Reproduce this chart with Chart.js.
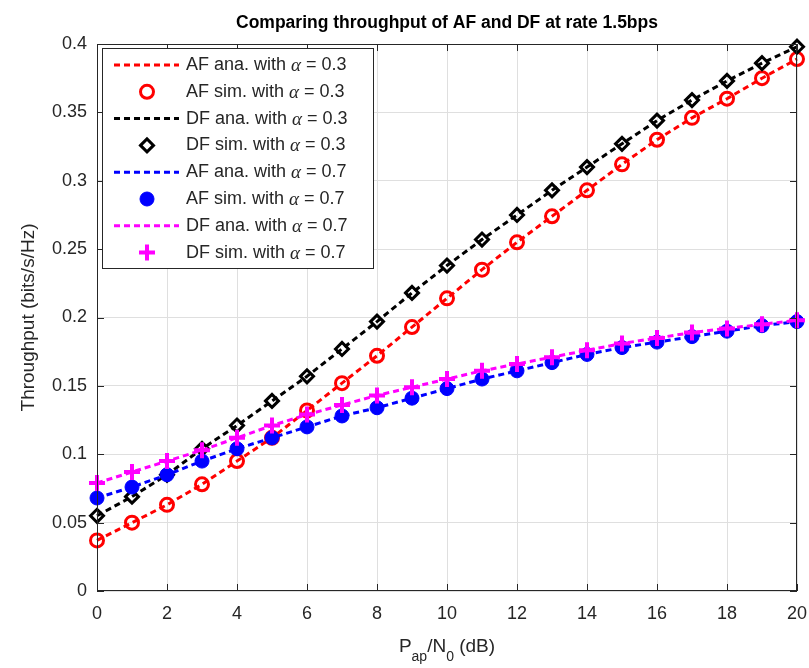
<!DOCTYPE html>
<html>
<head>
<meta charset="utf-8">
<title>Throughput of AF and DF</title>
<script src="https://cdn.jsdelivr.net/npm/chart.js@4.4.1/dist/chart.umd.min.js"></script>
<style>
  html, body { margin: 0; padding: 0; background: #fff; }
  #wrap { width: 809px; height: 668px; }
</style>
</head>
<body>
<div id="wrap"><canvas id="c" width="809" height="668"></canvas></div>
<script>
// P_ap/N_0 in dB
const snrDb = [0, 1, 2, 3, 4, 5, 6, 7, 8, 9, 10, 11, 12, 13, 14, 15, 16, 17, 18, 19, 20]

// throughput (bits/s/Hz), alpha = 0.3
const afLow = [0.037, 0.050, 0.063, 0.078, 0.095, 0.112, 0.132, 0.152, 0.172, 0.193, 0.214,
               0.235, 0.255, 0.274, 0.293, 0.312, 0.330, 0.346, 0.360, 0.375, 0.389]
const dfLow = [0.055, 0.069, 0.085, 0.104, 0.121, 0.139, 0.157, 0.177, 0.197, 0.218, 0.238,
               0.257, 0.275, 0.293, 0.310, 0.327, 0.344, 0.359, 0.373, 0.386, 0.398]

// throughput (bits/s/Hz), alpha = 0.7
const afHigh = [0.068, 0.076, 0.085, 0.095, 0.104, 0.112, 0.120, 0.128, 0.134, 0.141, 0.148,
                0.155, 0.161, 0.167, 0.173, 0.178, 0.182, 0.186, 0.190, 0.194, 0.197]
const dfHigh = [0.079, 0.087, 0.095, 0.103, 0.112, 0.121, 0.129, 0.136, 0.143, 0.149, 0.155,
                0.161, 0.166, 0.171, 0.176, 0.181, 0.185, 0.189, 0.192, 0.195, 0.198]

const xTickValues = [0, 2, 4, 6, 8, 10, 12, 14, 16, 18, 20]
const yTickValues = [0, 0.05, 0.1, 0.15, 0.2, 0.25, 0.3, 0.35, 0.4]

const FONT = "'Liberation Sans', Arial, sans-serif"
const TEXT = '#262626'

const pts = ys => ys.map((y, i) => ({ x: snrDb[i], y }))

// analytical curve: dashed line, no markers
const anaLine = (label, ys, color) => ({
    label, data: pts(ys), showLine: true, borderColor: color, borderWidth: 3,
    borderDash: [6, 4], pointRadius: 0, clip: false
})

// simulated points: markers only
const simPoints = (label, ys, color, style, radius, width, filled) => ({
    label, data: pts(ys), showLine: false, pointStyle: style, pointRadius: radius,
    pointBorderWidth: width, pointBorderColor: color,
    pointBackgroundColor: filled ? color : 'rgba(0,0,0,0)', borderColor: color,
    backgroundColor: filled ? color : 'rgba(0,0,0,0)', clip: false
})

const datasets = [
    anaLine('AF ana. with |0.3', afLow, '#ff0000'),
    simPoints('AF sim. with |0.3', afLow, '#ff0000', 'circle', 6.5, 3, false),
    anaLine('DF ana. with |0.3', dfLow, '#000000'),
    simPoints('DF sim. with |0.3', dfLow, '#000000', 'rectRot', 6.5, 3, false),
    anaLine('AF ana. with |0.7', afHigh, '#0000ff'),
    simPoints('AF sim. with |0.7', afHigh, '#0000ff', 'circle', 7, 1, true),
    anaLine('DF ana. with |0.7', dfHigh, '#ff00ff'),
    simPoints('DF sim. with |0.7', dfHigh, '#ff00ff', 'cross', 8, 4, false)
]
// later series are painted over earlier ones
datasets.forEach((d, i) => { d.order = datasets.length - i })

// box around the axes, inward ticks, titles and the legend
const decorations = {
    id: 'decorations',
    afterDatasetsDraw(chart) {
        const { ctx, chartArea: a, scales } = chart
        ctx.save()
        ctx.strokeStyle = TEXT
        ctx.lineWidth = 1
        ctx.strokeRect(a.left + 0.5, a.top + 0.5, a.width - 1, a.height - 1)
        ctx.beginPath()
        xTickValues.forEach(v => {
            const x = Math.round(scales.x.getPixelForValue(v)) + 0.5
            ctx.moveTo(x, a.bottom); ctx.lineTo(x, a.bottom - 7)
            ctx.moveTo(x, a.top); ctx.lineTo(x, a.top + 7)
        })
        yTickValues.forEach(v => {
            const y = Math.round(scales.y.getPixelForValue(v)) + 0.5
            ctx.moveTo(a.left, y); ctx.lineTo(a.left + 7, y)
            ctx.moveTo(a.right, y); ctx.lineTo(a.right - 7, y)
        })
        ctx.stroke()
        ctx.restore()
    },
    afterDraw(chart) {
        const { ctx, chartArea: a } = chart
        const cx = (a.left + a.right) / 2
        ctx.save()
        ctx.fillStyle = '#000'
        ctx.textAlign = 'center'
        ctx.textBaseline = 'alphabetic'
        ctx.font = `bold 17.5px ${FONT}`
        ctx.fillText('Comparing throughput of AF and DF at rate 1.5bps', cx, 28)

        // y axis title
        ctx.fillStyle = TEXT
        ctx.font = `19px ${FONT}`
        ctx.save()
        ctx.translate(34, (a.top + a.bottom) / 2)
        ctx.rotate(-Math.PI / 2)
        ctx.fillText('Throughput (bits/s/Hz)', 0, 0)
        ctx.restore()

        // x axis title with subscripts
        const parts = [['P', false], ['ap', true], ['/N', false], ['0', true], [' (dB)', false]]
        const big = `19px ${FONT}`, small = `14px ${FONT}`
        let total = 0
        parts.forEach(([t, sub]) => { ctx.font = sub ? small : big; total += ctx.measureText(t).width })
        let x = cx - total / 2
        ctx.textAlign = 'left'
        parts.forEach(([t, sub]) => {
            ctx.font = sub ? small : big
            ctx.fillText(t, x, sub ? 661 : 652)
            x += ctx.measureText(t).width
        })

        // legend
        const lx = a.left + 5, ly = a.top + 4, lw = 271, lh = 220, row = 26.8
        ctx.fillStyle = '#fff'
        ctx.fillRect(lx, ly, lw, lh)
        ctx.strokeStyle = TEXT
        ctx.lineWidth = 1
        ctx.strokeRect(lx + 0.5, ly + 0.5, lw, lh)
        chart.data.datasets.forEach((d, i) => {
            const y = ly + 17 + i * row
            if (d.showLine) {
                ctx.save()
                ctx.strokeStyle = d.borderColor
                ctx.lineWidth = d.borderWidth
                ctx.setLineDash(d.borderDash)
                ctx.beginPath()
                ctx.moveTo(lx + 12, y); ctx.lineTo(lx + 77, y)
                ctx.stroke()
                ctx.restore()
            } else {
                ctx.save()
                ctx.strokeStyle = d.pointBorderColor
                ctx.fillStyle = d.pointBackgroundColor
                ctx.lineWidth = d.pointBorderWidth
                Chart.helpers.drawPoint(ctx, {
                    pointStyle: d.pointStyle, radius: d.pointRadius,
                    borderWidth: d.pointBorderWidth, rotation: 0
                }, lx + 45, y)
                ctx.restore()
            }
            const [head, val] = d.label.split('|')
            let tx = lx + 84
            ctx.fillStyle = TEXT
            ctx.textBaseline = 'middle'
            ctx.font = `18px ${FONT}`
            ctx.fillText(head, tx, y)
            tx += ctx.measureText(head).width
            ctx.font = `italic 19px 'Liberation Serif', serif`
            ctx.fillText('\u03b1', tx, y + 1)
            tx += ctx.measureText('\u03b1').width
            ctx.font = `18px ${FONT}`
            ctx.fillText(' = ' + val, tx, y)
        })
        ctx.restore()
    }
}

new Chart(document.getElementById('c'), {
    type: 'scatter',
    data: { datasets },
    options: {
        responsive: false,
        animation: false,
        layout: { padding: { top: 44, right: 12, left: 0, bottom: 0 } },
        plugins: { legend: { display: false }, title: { display: false }, tooltip: { enabled: false } },
        scales: {
            x: {
                type: 'linear', min: 0, max: 20,
                afterFit: s => { s.height = 77; s.paddingLeft = 0; s.paddingRight = 0 },
                afterBuildTicks: s => { s.ticks = xTickValues.map(v => ({ value: v })) },
                grid: { color: '#dfdfdf', drawTicks: false },
                border: { display: false },
                ticks: { color: TEXT, padding: 12, font: { family: FONT, size: 18 }, maxRotation: 0 }
            },
            y: {
                type: 'linear', min: 0, max: 0.4,
                afterFit: s => { s.width = 97; s.paddingTop = 0; s.paddingBottom = 0 },
                afterBuildTicks: s => { s.ticks = yTickValues.map(v => ({ value: v })) },
                grid: { color: '#dfdfdf', drawTicks: false },
                border: { display: false },
                ticks: {
                    color: TEXT, padding: 10, font: { family: FONT, size: 18 },
                    callback: v => String(+v.toFixed(2))
                }
            }
        }
    },
    plugins: [decorations]
})
</script>
</body>
</html>
